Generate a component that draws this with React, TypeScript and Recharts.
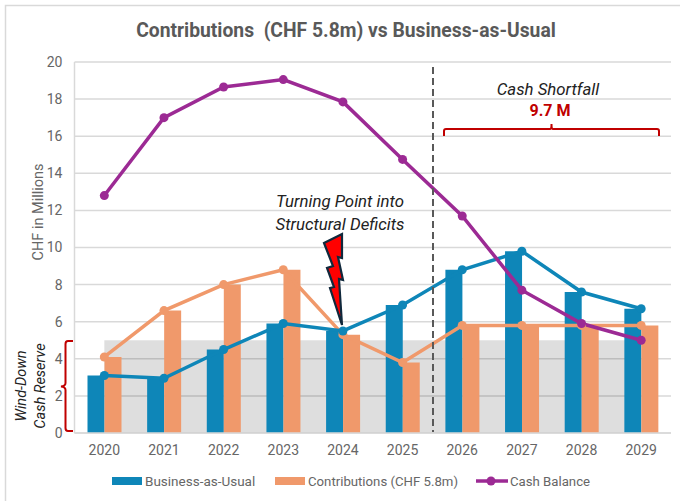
import React from "react";
import { ComposedChart, Bar, Line, Area, XAxis, YAxis, CartesianGrid } from "recharts";

const years = ["2020", "2021", "2022", "2023", "2024", "2025", "2026", "2027", "2028", "2029"];
const businessAsUsual = [3.1, 2.95, 4.5, 5.9, 5.5, 6.9, 8.8, 9.8, 7.6, 6.7];
const contributions = [4.1, 6.6, 8.0, 8.8, 5.3, 3.8, 5.8, 5.8, 5.8, 5.8];
const cashBalance = [12.8, 17.0, 18.65, 19.05, 17.85, 14.75, 11.7, 7.7, 5.9, 5.0];
const reserve = [5, 5, 5, 5, 5, 5, 5, 5, 5, 5];
const yTicks = [0, 2, 4, 6, 8, 10, 12, 14, 16, 18, 20];

const data = years.map((year, i) => ({
  year,
  bau: businessAsUsual[i],
  contrib: contributions[i],
  cash: cashBalance[i],
  reserve: reserve[i],
}));

const BLUE = "#0E86B8";
const ORANGE = "#F0996B";
const PURPLE = "#9C2A94";
const RED = "#C00000";
const FONT = "Roboto, 'Open Sans', sans-serif";

export default function App() {
  return (
    <div style={{ position: "fixed", left: 0, top: 0, width: 680, height: 501, background: "#fff", overflow: "hidden" }}>
      <ComposedChart
        width={680}
        height={501}
        data={data}
        margin={{ top: 62, right: 9, bottom: 38, left: 30 }}
        barCategoryGap="43%"
        barGap={0}
        style={{ fontFamily: FONT }}
      >
        <CartesianGrid vertical={false} stroke="#D9D9D9" strokeWidth={1.5} />
        <XAxis
          dataKey="year"
          height={30}
          tickLine={false}
          axisLine={{ stroke: "#D9D9D9", strokeWidth: 1.5 }}
          tick={{ fill: "#666", fontSize: 14 }}
          tickMargin={6}
        />
        <YAxis
          width={44.5}
          domain={[0, 20]}
          ticks={yTicks}
          interval={0}
          tickLine={false}
          axisLine={{ stroke: "#D9D9D9", strokeWidth: 1.5 }}
          tick={{ fill: "#666", fontSize: 14 }}
          tickMargin={6}
        />
        <Area dataKey="reserve" fill="#000000" fillOpacity={0.13} stroke="none" dot={false} activeDot={false} isAnimationActive={false} />
        <Bar dataKey="bau" fill={BLUE} barSize={17} isAnimationActive={false} />
        <Bar dataKey="contrib" fill={ORANGE} barSize={17} isAnimationActive={false} />
        <Line dataKey="contrib" stroke={ORANGE} strokeWidth={3.5} dot={{ r: 4.5, fill: ORANGE, stroke: ORANGE, strokeWidth: 0 }} activeDot={false} isAnimationActive={false} />
        <Line dataKey="bau" stroke={BLUE} strokeWidth={3.5} dot={{ r: 4.5, fill: BLUE, stroke: BLUE, strokeWidth: 0 }} activeDot={false} isAnimationActive={false} />
        <Line dataKey="cash" stroke={PURPLE} strokeWidth={3.5} dot={{ r: 4.5, fill: PURPLE, stroke: PURPLE, strokeWidth: 0 }} activeDot={false} isAnimationActive={false} />
      </ComposedChart>

      <svg width={680} height={501} style={{ position: "absolute", left: 0, top: 0, pointerEvents: "none", fontFamily: FONT }}>
        <path d="M5.5 501 V5.5 H680" fill="none" stroke="#D9D9D9" strokeWidth={1.5} />
        <text x={346} y={37} textAnchor="middle" fontSize={19.3} fontWeight={700} fill="#595959" xmlSpace="preserve">
          Contributions  (CHF 5.8m) vs Business-as-Usual
        </text>
        <text transform="translate(43 212) rotate(-90)" textAnchor="middle" fontSize={14.5} fill="#666">CHF in Millions</text>

        <line x1={433} y1={67} x2={433} y2={432} stroke="#595959" strokeWidth={2} strokeDasharray="7 4" />

        <text x={548} y={95} textAnchor="middle" fontSize={16.8} fontStyle="italic" fill="#222">Cash Shortfall</text>
        <text x={550} y={116} textAnchor="middle" fontSize={16} fontWeight={700} fill={RED}>9.7 M</text>
        <path d="M444 136 V131 Q444 129 446 129 H550 Q551.5 129 551.5 124 Q551.5 129 553 129 H657 Q659 129 659 131 V136" fill="none" stroke={RED} strokeWidth={2} />

        <text x={340} y={207} textAnchor="middle" fontSize={16.8} fontStyle="italic" fill="#222">Turning Point into</text>
        <text x={340} y={230} textAnchor="middle" fontSize={16.8} fontStyle="italic" fill="#222">Structural Deficits</text>
        <path d="M324 243 L342 234 L342 258 L338 257 L343 280 L339 279 L342 325 L330 288 L334 287 L327 268 L333 266 Z" fill="#FF0000" stroke="#10283C" strokeWidth={2.2} strokeLinejoin="miter" />

        <path d="M73 341 H68 Q65.5 341 65.5 344 V383 Q65.5 386 61 386.5 Q65.5 387 65.5 390 V428 Q65.5 431 68 431 H73" fill="none" stroke={RED} strokeWidth={2} />
        <text transform="translate(26 386) rotate(-90)" textAnchor="middle" fontSize={14.5} fontStyle="italic" fill="#222">Wind-Down</text>
        <text transform="translate(45 386) rotate(-90)" textAnchor="middle" fontSize={14.5} fontStyle="italic" fill="#222">Cash Reserve</text>

        <rect x={112} y={477} width={30} height={8} fill={BLUE} />
        <text x={145} y={486} fontSize={13.5} fill="#666">Business-as-Usual</text>
        <rect x={275} y={477} width={30} height={8} fill={ORANGE} />
        <text x={308} y={486} fontSize={13.2} fill="#666">Contributions (CHF 5.8m)</text>
        <line x1={476} y1={481} x2={508} y2={481} stroke={PURPLE} strokeWidth={3.5} />
        <circle cx={491} cy={481} r={4.5} fill={PURPLE} />
        <text x={510} y={486} fontSize={13.2} fill="#666">Cash Balance</text>
      </svg>
    </div>
  );
}
